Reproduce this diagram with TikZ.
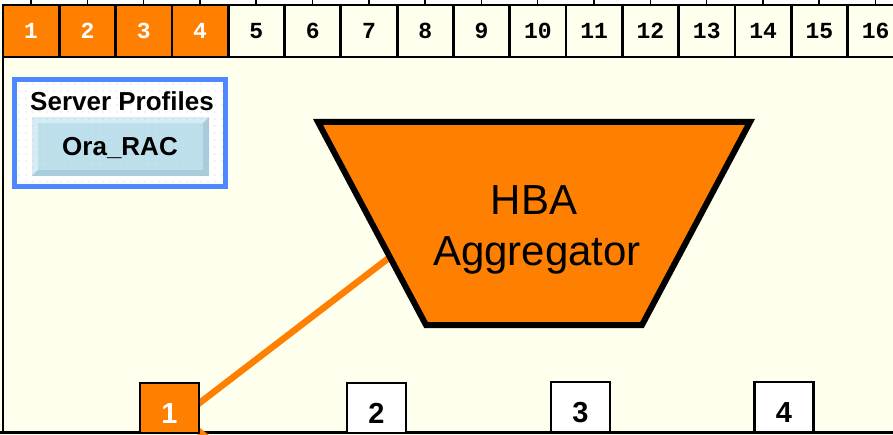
\documentclass[tikz,border=0pt]{standalone}
\usepackage{fontspec}
\setmainfont{Liberation Sans}
\newfontfamily\monob{Liberation Mono}
\usetikzlibrary{patterns.meta}
\definecolor{hbaorange}{RGB}{255,127,0}
\definecolor{cream}{RGB}{255,255,238}
\definecolor{frameblue}{RGB}{77,136,255}
\definecolor{facebl}{RGB}{190,224,236}
\definecolor{litebl}{RGB}{214,236,244}
\definecolor{darkbl}{RGB}{168,204,219}
\pgfdeclarelayer{bg}
\pgfdeclarelayer{wires}
\pgfsetlayers{bg,wires,main}
\begin{document}
\begin{tikzpicture}[x=1pt,y=-1pt,
  slot/.style={draw=black,line width=2.8pt,minimum width=56.3pt,minimum height=52pt,inner sep=0pt,
    font=\monob\bfseries\fontsize{23}{23}\selectfont,fill=cream,text height=15pt,text depth=0pt},
  slotx/.style={slot,fill=hbaorange,text=white},
  port/.style={draw=black,line width=2.2pt,fill=white,minimum width=59pt,minimum height=50pt,inner sep=0pt,
    font=\bfseries\fontsize{29}{29}\selectfont,text height=31pt,text depth=0pt},
  wire/.style={draw=hbaorange,line width=6.5pt},
  bigtxt/.style={font=\fontsize{42}{42}\selectfont,inner sep=0pt,anchor=base},
  sptxt/.style={font=\bfseries\fontsize{26}{26}\selectfont,inner sep=0pt,anchor=base}]
\useasboundingbox (0,0) rectangle (893,435);
\clip (0,0) rectangle (893,435);
\begin{pgfonlayer}{bg}
  \fill[cream] (0,0) rectangle (893,435);
  \fill[white] (0,0) rectangle (893,5);
  \foreach \i in {0,...,15}
    \draw[line width=1.5pt] (31+56.3*\i,0) -- (31+56.3*\i,5);
  \draw[line width=2.5pt] (3,57) -- (3,433);
  \draw[line width=3pt] (0,432.5) -- (893,432.5);
\end{pgfonlayer}

% top slot row
\foreach \i in {1,...,16}{
  \ifnum\i<5
    \node[slotx] (s\i) at (3+56.3*\i-28.15,31) {\i};
  \else
    \node[slot] (s\i) at (3+56.3*\i-28.15,31) {\i};
  \fi
}

% server profiles panel
\node[draw=frameblue,line width=5pt,fill=white,minimum width=211pt,minimum height=107pt,inner sep=0pt] (sp) at (120,133) {};
\fill[litebl] (32,117) rectangle (209,176);
\fill[darkbl] (209,117) -- (209,176) -- (32,176) -- (38,170) -- (203,170) -- (203,123) -- cycle;
\fill[facebl] (38,123) rectangle (203,170);
\fill[pattern={Dots[distance=6.5pt,radius=0.7pt]},pattern color=black!22] (17,82) rectangle (223,184);
\node[sptxt] (sptitle) at (122,111) {Server Profiles};
\node[sptxt] (ora) at (120,156) {Ora\_RAC};

% aggregator
\draw[line width=6pt,fill=hbaorange,line join=miter] (318,122) -- (750,122) -- (642,325) -- (426,325) -- cycle;
\node[bigtxt] (hba) at (534,215) {HBA};
\node[bigtxt] (agg) at (537,266) {Aggregator};
\coordinate (aggl) at (390,257);

% connectors
\coordinate (p1in) at (176,421);
\coordinate (p1low) at (190,424);
\coordinate (down) at (228,455);
\begin{pgfonlayer}{wires}
  \draw[wire] (aggl) -- (p1in);
  \draw[wire] (p1low) -- (down);
\end{pgfonlayer}

% ports
\node[port,fill=hbaorange,text=white] (p1) at (169.5,408) {1};
\node[port] (p2) at (376.5,408) {2};
\node[port] (p3) at (580.5,407) {3};
\node[port] (p4) at (784,407) {4};
\end{tikzpicture}
\end{document}
